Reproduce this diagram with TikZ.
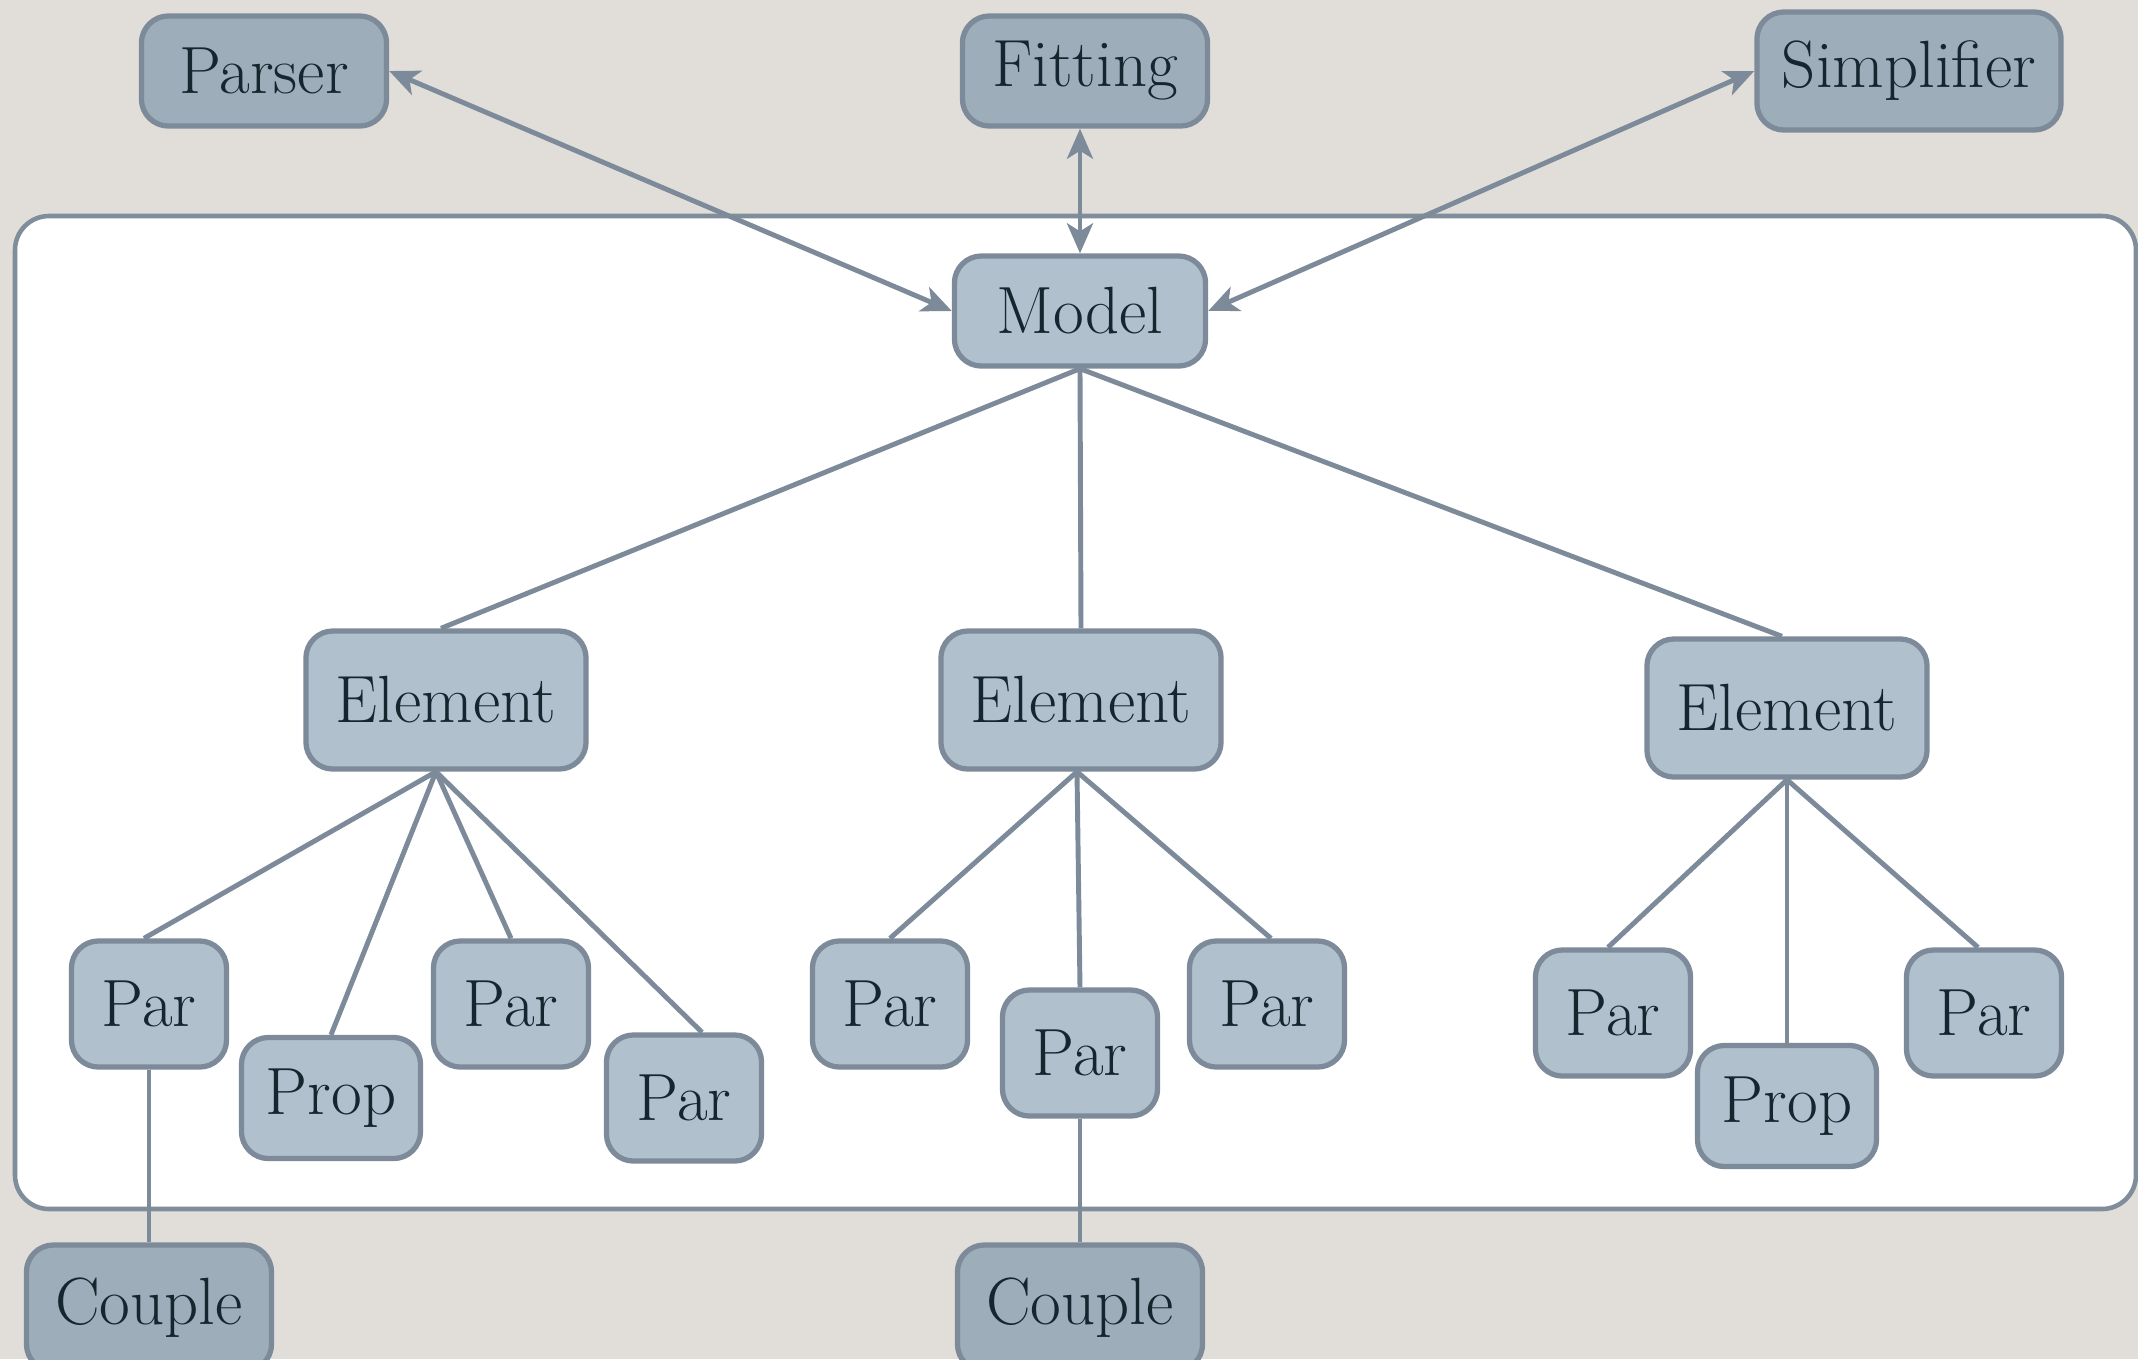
\documentclass[tikz,border=0pt]{standalone}
\usetikzlibrary{arrows.meta}
\definecolor{bgc}{HTML}{E1DED9}
\definecolor{framec}{HTML}{808D9A}
\definecolor{linec}{HTML}{7D8A99}
\definecolor{fillin}{HTML}{B0C0CD}
\definecolor{fillout}{HTML}{9EADBA}
\definecolor{txtc}{HTML}{17252E}
\tikzset{
  box/.style={draw=linec, line width=1.5pt, rounded corners=0.27cm, fill=fillin,
    text=txtc, font=\fontsize{19}{22}\selectfont, inner sep=0pt, align=center},
  outbox/.style={box, fill=fillout},
  wbig/.style={minimum width=2.45cm, minimum height=1.1cm},
  welem/.style={minimum width=2.8cm, minimum height=1.38cm},
  wpar/.style={minimum width=1.55cm, minimum height=1.26cm},
  wprop/.style={minimum width=1.79cm, minimum height=1.21cm},
  conn/.style={draw=linec, line width=1.4pt},
  biarrow/.style={conn, {Stealth[length=0.3cm,width=0.26cm,inset=0.08cm]}-{Stealth[length=0.3cm,width=0.26cm,inset=0.08cm]}}
}
\begin{document}
\begin{tikzpicture}[x=0.01cm,y=-0.01cm]
\fill[bgc] (0,0) rectangle (2138,1359);
\useasboundingbox (0,0) rectangle (2138,1359);
\begin{scope}
\clip (0,0) rectangle (2138,1359);
\draw[draw=framec, line width=1.3pt, fill=white, rounded corners=0.34cm] (15,216) rectangle (2136,1209);

\node[outbox,wbig] (parser) at (264,71) {Parser};
\node[outbox,wbig] (fitting) at (1085,71) {Fitting};
\node[outbox,minimum width=3.04cm,minimum height=1.18cm] (simp) at (1909,71) {Simplifier};
\node[box,minimum width=2.51cm,minimum height=1.1cm] (model) at (1080,311) {Model};

\node[box,welem] (e1) at (446,700) {Element};
\node[box,welem] (e2) at (1081,700) {Element};
\node[box,welem] (e3) at (1787,708) {Element};

\node[box,wpar] (p1) at (149,1004) {Par};
\node[box,wprop] (pr1) at (331,1098) {Prop};
\node[box,wpar] (p2) at (511,1004) {Par};
\node[box,wpar] (p3) at (684,1098) {Par};

\node[box,wpar] (p4) at (890,1004) {Par};
\node[box,wpar] (p5) at (1080,1053) {Par};
\node[box,wpar] (p6) at (1267,1004) {Par};

\node[box,wpar] (p7) at (1613,1013) {Par};
\node[box,wprop] (pr2) at (1787,1106) {Prop};
\node[box,wpar] (p8) at (1984,1013) {Par};

\node[outbox,minimum width=2.45cm,minimum height=1.26cm] (c1) at (149,1308) {Couple};
\node[outbox,minimum width=2.45cm,minimum height=1.26cm] (c2) at (1080,1308) {Couple};

% arrows
\draw[biarrow] (parser.east) -- (model.west);
\draw[biarrow] (model.north) -- (model.north |- fitting.south);
\draw[biarrow] (simp.west) -- (model.east);

% tree
\draw[conn] (model.south) -- ([xshift=-0.05cm]e1.north);
\draw[conn] (model.south) -- (e2.north);
\draw[conn] (model.south) -- ([xshift=-0.05cm]e3.north);

\draw[conn] ([xshift=-0.1cm]e1.south) -- ([xshift=-0.05cm]p1.north);
\draw[conn] ([xshift=-0.1cm]e1.south) -- (pr1.north);
\draw[conn] ([xshift=-0.1cm]e1.south) -- (p2.north);
\draw[conn] ([xshift=-0.1cm]e1.south) -- ([xshift=0.18cm]p3.north);

\draw[conn] ([xshift=-0.04cm]e2.south) -- (p4.north);
\draw[conn] ([xshift=-0.04cm]e2.south) -- (p5.north);
\draw[conn] ([xshift=-0.04cm]e2.south) -- ([xshift=0.04cm]p6.north);

\draw[conn] (e3.south) -- ([xshift=-0.05cm]p7.north);
\draw[conn] (e3.south) -- (pr2.north);
\draw[conn] (e3.south) -- ([xshift=-0.06cm]p8.north);

\draw[conn] (p1.south) -- (c1.north);
\draw[conn] (p5.south) -- (c2.north);
\end{scope}
\end{tikzpicture}
\end{document}
